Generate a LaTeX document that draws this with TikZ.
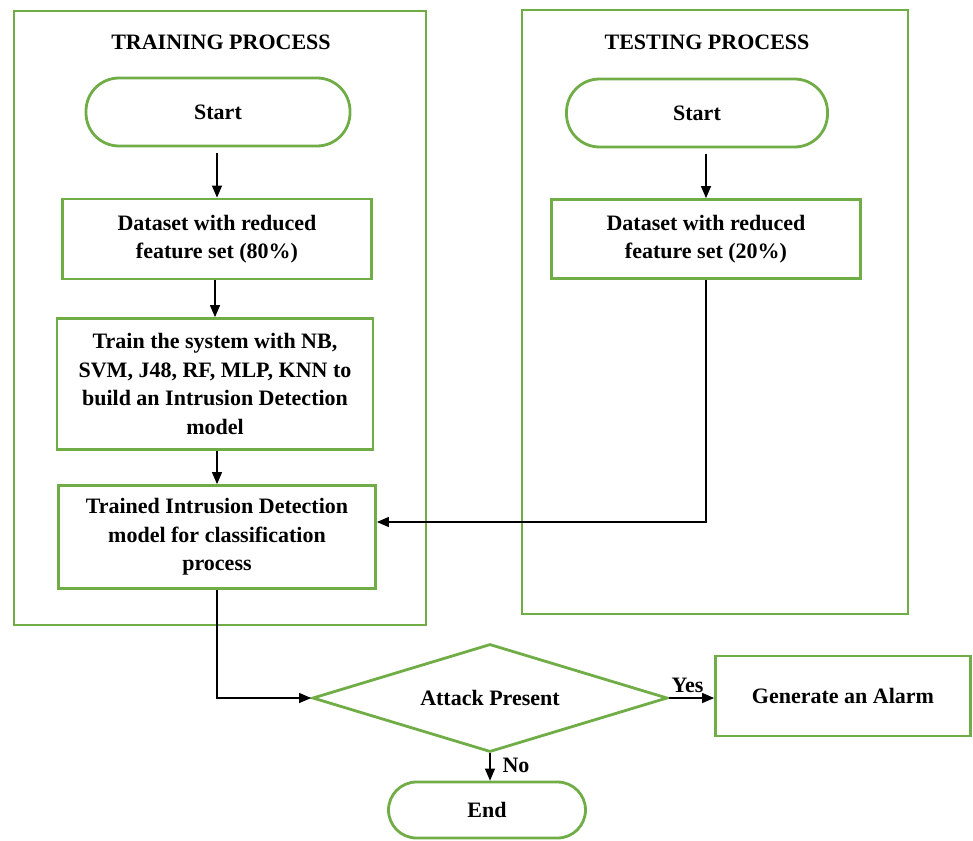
\documentclass[tikz,border=0pt]{standalone}
\usepackage{fontspec}
\setmainfont{Liberation Serif}
\usetikzlibrary{arrows.meta,shapes.geometric}

\definecolor{leafgreen}{RGB}{112,173,71}

\begin{document}
\begin{tikzpicture}[
    x=1pt, y=-1pt,
    >={Triangle[length=12pt,width=10pt]},
    every node/.style={align=center, font=\fontsize{22}{28.5}\selectfont\bfseries},
    stepbox/.style={
        draw=leafgreen,
        line width=2.8pt,
        inner sep=2pt
    },
    terminal/.style={
        stepbox,
        rounded corners=33pt
    },
    decision/.style={
        stepbox,
        diamond,
        aspect=3.3,
        inner sep=0pt
    },
    flow/.style={
        ->,
        line width=1.2pt,
        draw=black
    },
    group/.style={
        draw=leafgreen,
        line width=2.8pt
    },
    grouplabel/.style={
        text=black
    }
]
\useasboundingbox (0,0) rectangle (973,840);

% containers
\draw[group] (14,11) rectangle (426,625);
\draw[group] (522,10) rectangle (908,614);
\node[grouplabel] (trTitle) at (221,42) {TRAINING PROCESS};
\node[grouplabel] (teTitle) at (707,42) {TESTING PROCESS};

% training side
\node[terminal, minimum width=264, minimum height=68] (trStart) at (218,112) {Start};
\node[stepbox, minimum width=309, minimum height=80] (trData) at (217,239) {Dataset with reduced\\feature set (80\%)};
\node[stepbox, minimum width=316, minimum height=131] (trTrain) at (215,384) {Train the system with NB,\\SVM, J48, RF, MLP, KNN to\\build an Intrusion Detection\\model};
\node[stepbox, minimum width=317, minimum height=103] (trModel) at (217,537) {Trained Intrusion Detection\\model for classification\\process};

% testing side
\node[terminal, minimum width=261, minimum height=68] (teStart) at (697,113) {Start};
\node[stepbox, minimum width=309, minimum height=79] (teData) at (706,239) {Dataset with reduced\\feature set (20\%)};

% decision
\node[decision, minimum width=355, minimum height=108] (decide) at (490,698) {Attack Present};
\node[stepbox, minimum width=255, minimum height=80] (alarm) at (843,696) {Generate an Alarm};
\node[terminal, rounded corners=28pt, minimum width=197, minimum height=56] (endNode) at (487,810) {End};

\draw[flow] ([yshift=-6]trStart.south -| trData.north) -- (trData.north);
\draw[flow] (trData.south -| trTrain.north) -- (trTrain.north);
\draw[flow] (trTrain.south -| trModel.north) -- (trModel.north);
\draw[flow] ([yshift=-6]teStart.south -| teData.north) -- (teData.north);
\draw[flow] (teData.south) |- ([yshift=15]trModel.east);
\draw[flow] (trModel.south) |- (decide.west);
\draw[flow] (decide.east) -- node (yesLbl) [above, inner sep=5pt, xshift=-4] {Yes} (decide.east -| alarm.west);
\draw[flow] (decide.south) -- node (noLbl) [anchor=west, inner sep=4pt, xshift=8, yshift=2] {No} (decide.south |- endNode.north);
\end{tikzpicture}
\end{document}
